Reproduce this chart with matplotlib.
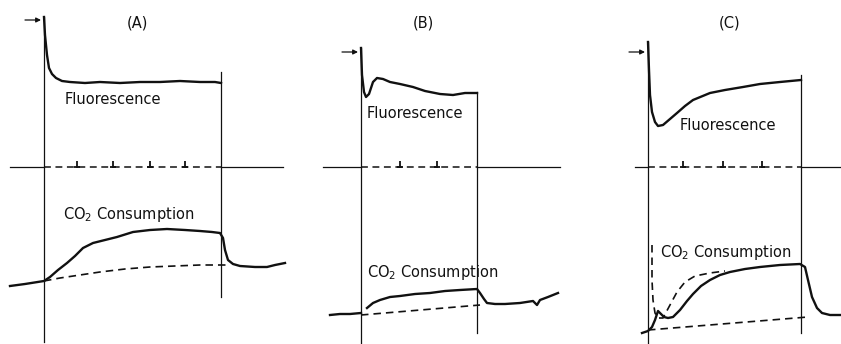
import matplotlib
matplotlib.use('Agg')
import matplotlib.pyplot as plt
import numpy as np

# all coordinates are in figure pixels (x right, y down)
W, H = 841, 344

panel_titles = ['(A)', '(B)', '(C)']
title_x = [137, 423, 730]

# light on / light off marks
light_on_x = [44, 361, 648]
light_off_x = [221, 477, 801]

# fluorescence traces
fluor_a_x = [44, 45, 47, 49, 52, 56, 62, 70, 85, 100, 120, 140, 160, 180, 200, 215, 221]
fluor_a_y = [17, 35, 55, 68, 74, 78, 81, 82, 83, 82, 83, 82, 82, 81, 82, 82, 83]
fluor_b_x = [361, 362, 364, 366, 369, 373, 377, 383, 390, 400, 413, 425, 440, 453, 465, 477]
fluor_b_y = [48, 75, 92, 97, 94, 82, 78, 79, 82, 84, 87, 91, 94, 95, 93, 93]
fluor_c_x = [648, 649, 650, 652, 655, 658, 663, 670, 677, 685, 693, 710, 725, 743, 760, 780, 801]
fluor_c_y = [42, 70, 95, 112, 122, 126, 125, 119, 113, 106, 100, 93, 90, 87, 84, 82, 80]

# CO2 consumption traces
co2_a_x = [10, 25, 44, 50, 58, 67, 75, 83, 93, 105, 117, 133, 150, 167, 185, 200, 212, 220, 223, 225, 228, 233, 240, 255, 267, 275, 285]
co2_a_y = [286, 284, 281, 277, 270, 263, 256, 248, 243, 240, 237, 232, 230, 229, 230, 231, 232, 233, 238, 250, 260, 264, 266, 267, 267, 265, 263]
co2_a_base_x = [44, 60, 80, 100, 125, 150, 175, 200, 227]
co2_a_base_y = [281, 278, 275, 272, 269, 267, 266, 265, 265]

co2_b_pre_x = [330, 340, 350, 361]
co2_b_pre_y = [315, 314, 314, 313]
co2_b_x = [367, 373, 380, 390, 400, 415, 430, 445, 460, 477, 480, 484, 487, 495, 505, 520, 533, 537, 540, 548, 558]
co2_b_y = [308, 303, 300, 297, 296, 294, 293, 291, 290, 289, 293, 299, 303, 304, 304, 303, 301, 305, 300, 297, 293]
co2_b_base_x = [361, 480]
co2_b_base_y = [315, 305]

co2_c_x = [642, 648, 652, 655, 658, 661, 664, 668, 673, 680, 687, 693, 701, 710, 720, 730, 745, 760, 780, 800, 805, 808, 812, 817, 822, 830, 840]
co2_c_y = [333, 331, 327, 320, 311, 314, 317, 318, 317, 310, 301, 294, 286, 280, 275, 272, 269, 267, 265, 264, 267, 280, 297, 308, 313, 315, 315]
co2_c_fast_x = [652, 652, 653, 655, 658, 663, 670, 677, 685, 695, 710, 725]
co2_c_fast_y = [245, 280, 300, 313, 318, 318, 305, 292, 282, 276, 273, 271]
co2_c_base_x = [648, 808]
co2_c_base_y = [330, 317]

# time marks on the dashed time line
axis_y = 167
time_marks = [[77, 113, 150, 185], [400, 437], [683, 723, 762]]
axis_segments = [(10, 283), (323, 560), (635, 841)]

# vertical extent of the light marks
on_span = [(17, 342), (48, 343), (42, 344)]
off_span = [(72, 297), (92, 333), (75, 333)]
arrow_y = [20, 52, 52]

fig = plt.figure(figsize=(W / 100, H / 100), dpi=100)
ax = fig.add_axes([0, 0, 1, 1])
ax.set_xlim(0, W)
ax.set_ylim(H, 0)
ax.axis('off')

k = '#111111'
trace_lw = 1.7
dash = (0, (4.5, 3))
for i in range(3):
    x0, x1 = light_on_x[i], light_off_x[i]
    ax.plot([x0, x0], on_span[i], color=k, lw=0.9)
    ax.plot([x1, x1], off_span[i], color=k, lw=0.9)
    # time line: solid outside the light period, dashed inside
    a0, a1 = axis_segments[i]
    ax.plot([a0, x0], [axis_y, axis_y], color=k, lw=0.9)
    ax.plot([x1, a1], [axis_y, axis_y], color=k, lw=0.9)
    ax.plot([x0, x1], [axis_y, axis_y], color=k, lw=1.1, ls=dash)
    for t in time_marks[i]:
        ax.plot([t, t], [axis_y + 0.5, axis_y - 6], color=k, lw=1.3,
                solid_capstyle='butt')
        ax.plot([t - 3, t + 3], [axis_y, axis_y], color=k, lw=1.3,
                solid_capstyle='butt')
    ax.annotate('', xy=(x0 - 3, arrow_y[i]), xytext=(x0 - 19, arrow_y[i]),
                arrowprops=dict(arrowstyle='-|>', color=k, lw=0.9,
                                mutation_scale=7, shrinkA=0, shrinkB=0))
    ax.text(title_x[i], 23, panel_titles[i], ha='center', va='center',
            fontsize=10.5, color=k)

ax.plot(fluor_a_x, fluor_a_y, color=k, lw=trace_lw)
ax.plot(fluor_b_x, fluor_b_y, color=k, lw=trace_lw)
ax.plot(fluor_c_x, fluor_c_y, color=k, lw=trace_lw)

ax.plot(co2_a_x, co2_a_y, color=k, lw=trace_lw)
ax.plot(co2_a_base_x, co2_a_base_y, color=k, lw=1.2, ls=dash)
ax.plot(co2_b_pre_x, co2_b_pre_y, color=k, lw=trace_lw)
ax.plot(co2_b_x, co2_b_y, color=k, lw=trace_lw)
ax.plot(co2_b_base_x, co2_b_base_y, color=k, lw=1.2, ls=dash)
ax.plot(co2_c_x, co2_c_y, color=k, lw=trace_lw)
ax.plot(co2_c_fast_x, co2_c_fast_y, color=k, lw=1.2, ls=dash)
ax.plot(co2_c_base_x, co2_c_base_y, color=k, lw=1.2, ls=dash)

fs = 10.5
ax.text(65, 99, 'Fluorescence', fontsize=fs, va='center', color=k)
ax.text(367, 113, 'Fluorescence', fontsize=fs, va='center', color=k)
ax.text(680, 125, 'Fluorescence', fontsize=fs, va='center', color=k)
ax.text(63, 215, r'CO$_2$ Consumption', fontsize=fs, va='center', color=k)
ax.text(367, 273, r'CO$_2$ Consumption', fontsize=fs, va='center', color=k)
ax.text(660, 252, r'CO$_2$ Consumption', fontsize=fs, va='center', color=k)

fig.savefig('out.png', dpi=100)
